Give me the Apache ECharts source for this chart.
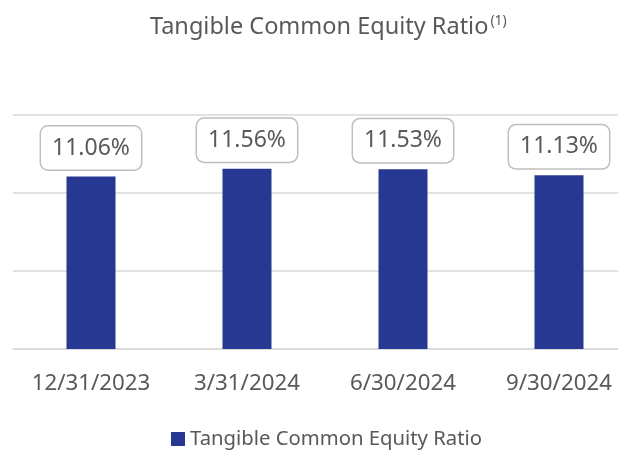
<!DOCTYPE html>
<html>
<head>
    <meta charset="utf-8">
    <title>ECharts</title>
    <script src="https://cdn.jsdelivr.net/npm/echarts@6/dist/echarts.min.js"></script>
</head>
<body style="margin:0">
    <div id="main" style="width: 618px;height:450px;"></div>
    <script type="text/javascript">
        var categories = ['12/31/2023', '3/31/2024', '6/30/2024', '9/30/2024'];
        var tceRatio = [11.06, 11.56, 11.53, 11.13];
        var seriesName = 'Tangible Common Equity Ratio';

        var textColor = '#595959';
        var fontName = 'Noto Sans';

        var myChart = echarts.init(document.getElementById('main'));
        var option = {
            animation: false,
            title: {
                text: '{a|Tangible Common Equity Ratio}{b|(1)}',
                left: 145,
                top: 9,
                textStyle: {
                    rich: {
                        a: { fontFamily: fontName, fontSize: 23.5, color: textColor, fontWeight: 'normal' },
                        b: { fontFamily: fontName, fontSize: 14, color: textColor, fontWeight: 'normal', padding: [0, 0, 12, 2] }
                    }
                }
            },
            legend: {
                top: 424,
                left: 166,
                itemWidth: 14,
                itemHeight: 14,
                itemGap: 6,
                icon: 'rect',
                textStyle: { fontFamily: fontName, fontSize: 20.3, color: textColor },
                data: [seriesName]
            },
            grid: {
                left: 13,
                top: 115,
                width: 624,
                height: 234,
                outerBoundsMode: 'none'
            },
            xAxis: {
                type: 'category',
                data: categories,
                axisTick: { show: false },
                axisLine: { lineStyle: { color: '#d9d9d9', width: 1.5 } },
                axisLabel: { fontFamily: fontName, fontSize: 22.3, color: textColor, margin: 24 }
            },
            yAxis: {
                type: 'value',
                min: 0,
                max: 15,
                interval: 5,
                axisLabel: { show: false },
                splitLine: { lineStyle: { color: '#d9d9d9', width: 1.5 } }
            },
            series: [{
                name: seriesName,
                type: 'bar',
                barWidth: 49,
                data: tceRatio,
                itemStyle: { color: '#273892' },
                label: {
                    show: true,
                    position: 'top',
                    distance: 7,
                    formatter: function (p) { return p.value.toFixed(2) + '%'; },
                    fontFamily: fontName,
                    fontSize: 23,
                    color: textColor,
                    backgroundColor: '#fff',
                    borderColor: '#bfbfbf',
                    borderWidth: 1.5,
                    borderRadius: 7,
                    padding: [10, 11, 10, 11]
                }
            }]
        };
        myChart.setOption(option);
    </script>
</body>
</html>
